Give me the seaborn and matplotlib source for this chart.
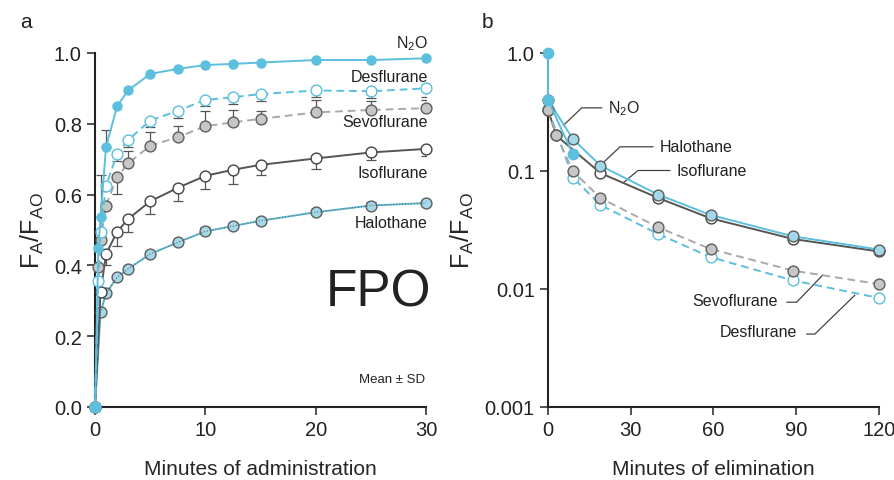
import matplotlib
matplotlib.use("Agg")
import matplotlib.pyplot as plt
import seaborn as sns

# ---- panel a: uptake (minutes of administration) ----
t_up5 = [0, 0.3, 0.5, 1, 2, 3, 5, 7.5, 10, 12.5, 15, 20, 25, 30]
t_up = [0, 0.5, 1, 2, 3, 5, 7.5, 10, 12.5, 15, 20, 25, 30]

n2o_up = [0, 0.449, 0.537, 0.735, 0.850, 0.894, 0.941, 0.955, 0.966, 0.969, 0.973, 0.980, 0.980, 0.985]
n2o_up_hi = [0, 0, 0.118, 0.047, 0, 0, 0, 0, 0, 0, 0, 0, 0, 0]

des_up = [0, 0.357, 0.495, 0.625, 0.715, 0.754, 0.809, 0.837, 0.867, 0.875, 0.884, 0.894, 0.892, 0.900]
des_up_lo = [0, 0, 0, 0, 0.02, 0.02, 0.019, 0.022, 0.016, 0.02, 0.019, 0.019, 0.019, 0.025]

sevo_up = [0, 0.395, 0.473, 0.569, 0.650, 0.688, 0.738, 0.762, 0.793, 0.804, 0.814, 0.832, 0.839, 0.844]
sevo_up_lo = [0, 0, 0, 0, 0.047, 0, 0, 0, 0, 0, 0, 0, 0, 0]
sevo_up_hi = [0, 0, 0, 0, 0, 0.035, 0.04, 0.033, 0.044, 0.035, 0.022, 0.035, 0.026, 0.024]

iso_up = [0, 0.324, 0.432, 0.495, 0.531, 0.581, 0.619, 0.653, 0.670, 0.684, 0.702, 0.719, 0.729]
iso_up_lo = [0, 0, 0.03, 0.04, 0.037, 0.036, 0.036, 0.036, 0.039, 0.03, 0.03, 0.02, 0.02]

halo_up = [0, 0.267, 0.321, 0.366, 0.390, 0.432, 0.465, 0.496, 0.511, 0.526, 0.550, 0.569, 0.576]
halo_up_hi = [0, 0, 0, 0.005, 0.008, 0.008, 0.008, 0.012, 0.01, 0.008, 0.01, 0.01, 0.008]

# ---- panel b: elimination ----
t_n2o_el = [0, 0, 9]
n2o_el = [1.0, 0.40, 0.139]
t_halo_el = [0, 9, 19, 40, 59, 89, 120]
halo_el = [0.40, 0.187, 0.111, 0.063, 0.0424, 0.0279, 0.0216]
t_iso_el = [0, 3, 19, 40, 59, 89, 120]
iso_el = [0.33, 0.20, 0.096, 0.059, 0.0397, 0.0265, 0.0208]
t_sevo_el = [0, 3, 9, 19, 40, 59, 89, 120]
sevo_el = [0.33, 0.202, 0.10, 0.059, 0.0333, 0.0218, 0.0143, 0.0110]
t_des_el = [0, 9, 19, 40, 59, 89, 120]
des_el = [0.335, 0.088, 0.0515, 0.0292, 0.0186, 0.0118, 0.0084]

CYAN = '#5bbfdd'
LIGHT = '#a3d7ea'
GREY_FILL = '#c6c6c6'
GREY_LINE = '#a8a8a8'
DARK = '#555555'
EDGE = '#5e5e5e'

sns.set_theme(style="ticks")
plt.rcParams['font.family'] = ['Liberation Sans', 'DejaVu Sans']
plt.rcParams['mathtext.fontset'] = 'custom'
plt.rcParams['mathtext.rm'] = 'Liberation Sans'
plt.rcParams['mathtext.it'] = 'Liberation Sans:italic'
plt.rcParams['axes.edgecolor'] = '#222222'
plt.rcParams['text.color'] = '#222222'


def draw(ax, t, v, color, ls, face, edge, ms=7.8, z=3, dashes=None):
    sns.lineplot(x=t, y=v, ax=ax, color=color, linestyle=ls, linewidth=1.4,
                 marker='o', markersize=ms, markerfacecolor=face,
                 markeredgecolor=edge, markeredgewidth=1.0,
                 estimator=None, sort=False, errorbar=None,
                 clip_on=False, zorder=z)
    line = ax.lines[-1]
    if dashes is not None:
        line.set_dashes(dashes)
    return line


def bars(ax, t, v, lo, hi, z=2):
    idx = [i for i in range(len(t)) if lo[i] > 0 or hi[i] > 0]
    ax.errorbar([t[i] for i in idx], [v[i] for i in idx],
                yerr=[[lo[i] for i in idx], [hi[i] for i in idx]],
                fmt='none', ecolor='#555555', elinewidth=0.9, capsize=3.5,
                capthick=0.9, zorder=z)


fig = plt.figure(figsize=(8.94, 4.81), dpi=100)
axa = fig.add_axes([0.1063, 0.1518, 0.3702, 0.7360])
axb = fig.add_axes([0.6130, 0.1518, 0.3699, 0.7360])

# --- panel a ---
zeros13 = [0] * len(t_up)
zeros14 = [0] * len(t_up5)
bars(axa, t_up5, n2o_up, zeros14, n2o_up_hi)
bars(axa, t_up5, des_up, des_up_lo, zeros14)
bars(axa, t_up5, sevo_up, sevo_up_lo, sevo_up_hi)
bars(axa, t_up, iso_up, iso_up_lo, zeros13)
bars(axa, t_up, halo_up, zeros13, halo_up_hi)

draw(axa, t_up, halo_up, CYAN, '-', LIGHT, EDGE, z=3)
sns.lineplot(x=t_up, y=halo_up, ax=axa, color='#666666', linestyle=':',
             linewidth=0.8, estimator=None, sort=False, errorbar=None, zorder=3)
draw(axa, t_up, iso_up, DARK, '-', 'white', '#444444', z=4)
draw(axa, t_up5, sevo_up, GREY_LINE, '--', GREY_FILL, EDGE, z=5, dashes=[4, 2.5])
draw(axa, t_up5, des_up, CYAN, '--', 'white', CYAN, z=6, dashes=[4, 2.5])
draw(axa, t_up5, n2o_up, CYAN, '-', CYAN, CYAN, ms=6.5, z=7)

axa.set_xlim(0, 30)
axa.set_ylim(0, 1.0)
axa.set_xticks([0, 10, 20, 30])
axa.set_yticks([0, 0.2, 0.4, 0.6, 0.8, 1.0])
axa.set_yticklabels(['0.0', '0.2', '0.4', '0.6', '0.8', '1.0'])

lab_kw = dict(transform=axa.transAxes, ha='right', va='center', fontsize=11.5)
axa.text(1.005, 1.028, 'N$_2$O', **lab_kw)
axa.text(1.005, 0.933, 'Desflurane', **lab_kw)
axa.text(1.005, 0.807, 'Sevoflurane', **lab_kw)
axa.text(1.005, 0.661, 'Isoflurane', **lab_kw)
axa.text(1.005, 0.522, 'Halothane', **lab_kw)
axa.text(0.998, 0.079, 'Mean \u00b1 SD', transform=axa.transAxes, ha='right',
         va='center', fontsize=9.5)
axa.text(0.855, 0.325, 'FPO', transform=axa.transAxes, ha='center',
         va='center', fontsize=37)
axa.set_xlabel('Minutes of administration', fontsize=15, labelpad=14)
axa.set_ylabel('$\\mathregular{F_A/F_{AO}}$', fontsize=18, labelpad=6)

# --- panel b ---
draw(axb, t_halo_el, halo_el, CYAN, '-', LIGHT, EDGE, z=4)
draw(axb, t_iso_el, iso_el, DARK, '-', 'white', '#444444', z=3)
draw(axb, t_des_el, des_el, CYAN, '--', 'white', CYAN, z=5, dashes=[4, 2.5])
draw(axb, t_sevo_el, sevo_el, GREY_LINE, '--', GREY_FILL, EDGE, z=6, dashes=[4, 2.5])
draw(axb, t_n2o_el, n2o_el, CYAN, '-', CYAN, CYAN, ms=7.5, z=7)

axb.set_yscale('log')
axb.set_xlim(0, 120)
axb.set_ylim(0.001, 1.0)
axb.set_xticks([0, 30, 60, 90, 120])
axb.set_yticks([0.001, 0.01, 0.1, 1.0])
axb.set_yticklabels(['0.001', '0.01', '0.1', '1.0'])
axb.minorticks_off()
axb.set_xlabel('Minutes of elimination', fontsize=15, labelpad=14)
axb.set_ylabel('$\\mathregular{F_A/F_{AO}}$', fontsize=18, labelpad=6)

lead_kw = dict(transform=axb.transAxes, color='#444444', lw=0.9, clip_on=False)
txt_kw = dict(transform=axb.transAxes, va='center', fontsize=11.5)
axb.plot([0.046, 0.102, 0.163], [0.795, 0.845, 0.845], **lead_kw)
axb.text(0.181, 0.845, 'N$_2$O', ha='left', **txt_kw)
axb.plot([0.162, 0.218, 0.318], [0.686, 0.735, 0.735], **lead_kw)
axb.text(0.339, 0.735, 'Halothane', ha='left', **txt_kw)
axb.plot([0.227, 0.272, 0.369], [0.633, 0.668, 0.668], **lead_kw)
axb.text(0.389, 0.668, 'Isoflurane', ha='left', **txt_kw)
axb.plot([0.722, 0.752, 0.831], [0.296, 0.296, 0.373], **lead_kw)
axb.text(0.696, 0.300, 'Sevoflurane', ha='right', **txt_kw)
axb.plot([0.782, 0.807, 0.928], [0.206, 0.206, 0.316], **lead_kw)
axb.text(0.753, 0.212, 'Desflurane', ha='right', **txt_kw)

for ax in (axa, axb):
    sns.despine(ax=ax)
    ax.spines['left'].set_linewidth(1.5)
    ax.spines['bottom'].set_linewidth(1.5)
    ax.tick_params(axis='both', labelsize=14.5, length=6, width=1.1,
                   colors='#222222', direction='out')

fig.text(20 / 894, 1 - 22 / 481, 'a', fontsize=15, va='center', ha='left')
fig.text(482 / 894, 1 - 22 / 481, 'b', fontsize=15, va='center', ha='left')

fig.savefig('out.png', dpi=100)
